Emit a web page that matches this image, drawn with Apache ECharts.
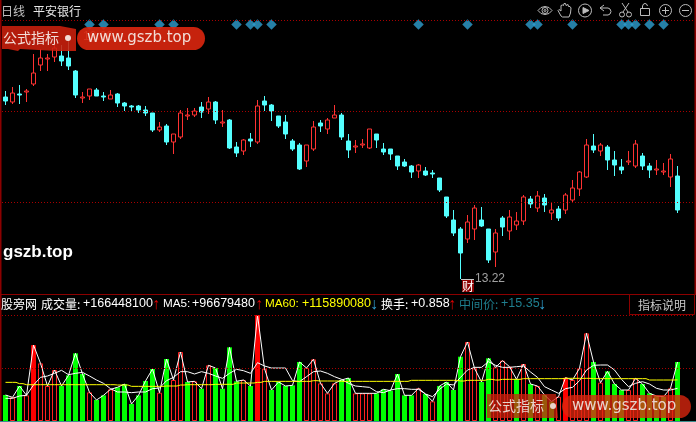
<!DOCTYPE html>
<html><head><meta charset="utf-8">
<style>html,body{margin:0;padding:0;background:#000;overflow:hidden}#c{width:696px;height:422px}</style>
<script src="https://cdn.jsdelivr.net/npm/echarts@6/dist/echarts.min.js"></script>
</head><body><div id="c"></div>
<script>
const opens=[16.86,16.76,16.92,16.96,17.12,17.50,17.62,17.66,17.68,17.64,17.38,16.84,16.88,17.00,16.88,16.82,16.92,16.74,16.68,16.68,16.60,16.54,16.20,16.28,15.96,16.06,16.48,16.50,16.66,16.62,16.76,16.34,16.40,15.86,15.78,16.02,15.96,16.78,16.70,16.48,16.36,15.98,15.90,15.58,15.82,16.34,16.22,16.44,16.50,15.98,15.86,15.90,15.84,16.12,15.82,15.82,15.68,15.56,15.48,15.38,15.38,15.34,15.24,14.86,14.40,14.22,14.02,14.22,14.40,14.22,13.76,14.44,14.18,14.30,14.38,14.82,14.64,14.84,14.54,14.62,14.60,14.80,15.02,15.26,15.88,15.78,15.86,15.60,15.46,15.56,15.48,15.68,15.48,15.40,15.36,15.26,15.28];
const closes=[16.78,16.94,16.90,16.98,17.34,17.64,17.64,17.84,17.58,17.48,16.90,16.86,17.02,16.88,16.86,16.90,16.74,16.68,16.66,16.60,16.54,16.20,16.26,15.96,16.12,16.54,16.50,16.58,16.56,16.76,16.40,16.36,15.84,15.74,16.00,15.98,16.68,16.70,16.58,16.28,16.12,15.82,15.42,15.90,16.26,16.28,16.40,16.50,16.06,15.80,15.88,15.92,16.22,16.00,15.76,15.72,15.48,15.48,15.36,15.50,15.30,15.32,15.00,14.48,14.14,13.74,14.36,14.64,14.28,13.60,14.14,14.26,14.46,14.38,14.86,14.72,14.88,14.70,14.60,14.44,14.90,15.04,15.36,15.90,15.80,15.90,15.60,15.50,15.40,15.58,15.92,15.48,15.40,15.42,15.38,15.62,14.60];
const lows=[16.70,16.72,16.72,16.76,17.08,17.38,17.38,17.56,17.48,17.40,16.84,16.74,16.80,16.88,16.78,16.82,16.66,16.58,16.58,16.54,16.48,16.16,16.16,15.90,15.72,16.02,16.40,16.46,16.44,16.52,16.32,16.26,15.82,15.66,15.70,15.86,15.92,16.58,16.38,16.24,16.02,15.78,15.40,15.46,15.78,16.16,16.12,16.44,16.00,15.64,15.74,15.84,15.82,15.84,15.70,15.60,15.40,15.46,15.24,15.24,15.28,15.24,14.96,14.44,14.08,13.22,13.94,14.00,14.26,13.54,13.46,14.08,14.00,14.20,14.30,14.64,14.56,14.56,14.40,14.38,14.52,14.76,14.88,15.24,15.74,15.68,15.40,15.28,15.32,15.50,15.44,15.40,15.24,15.30,15.30,15.06,14.54];
const highs=[16.98,17.06,17.10,17.02,17.72,17.82,17.72,18.00,17.90,18.06,17.40,16.96,17.02,17.04,16.96,17.00,16.94,16.76,16.70,16.70,16.68,16.54,16.36,16.32,16.12,16.60,16.64,16.64,16.76,16.86,16.78,16.60,16.42,15.96,16.02,16.14,16.80,16.88,16.72,16.48,16.50,16.02,15.94,15.90,16.38,16.40,16.44,16.70,16.54,16.12,16.00,16.02,16.22,16.12,15.94,15.82,15.68,15.62,15.50,15.52,15.46,15.40,15.24,14.86,14.60,14.26,14.50,14.70,14.66,14.22,14.22,14.48,14.60,14.56,14.90,14.88,14.98,14.92,14.76,14.68,14.94,15.20,15.38,16.02,16.12,15.94,15.90,15.78,15.62,15.78,16.00,15.74,15.54,15.60,15.54,15.72,15.48];
const volumes=[73.3,66.7,98.7,72.4,214.3,162.6,98.7,143.8,98.7,128.8,190.8,132.5,80.8,59.2,72.4,89.3,95.0,104.3,47.9,72.4,112.8,146.6,79.9,174.8,115.6,194.6,110.0,111.9,91.2,157.0,149.5,91.2,207.7,111.9,115.6,98.7,298.9,147.6,87.4,110.0,98.7,100.6,166.4,149.5,173.9,106.2,78.0,106.2,115.6,121.3,78.0,78.0,78.0,78.0,89.3,85.6,132.5,72.4,72.4,92.1,76.1,55.4,98.7,110.0,87.4,181.4,222.8,148.5,110.0,176.7,151.3,170.1,153.2,117.5,160.7,104.3,98.7,73.3,54.5,68.6,122.2,115.6,148.5,247.2,166.4,108.1,140.0,104.3,87.4,87.4,120.3,104.3,78.0,70.5,68.6,92.1,166.45];
const volKinds="GRGRFRRRGG"+"GGRGGRGGGG"+"GGRGRRGRGR"+"GGGGRGFRGG"+"GGGRRRRRGG"+"RRRGGGGGGR"+"GRGGGGRRGG"+"RRRGRGRGGR"+"FRRRGRGGGR"+"RGGGGRG";
const ma5=[63.9,63.9,70.5,72.4,101.5,123.1,126.9,134.4,142.9,130.6,134.4,137.2,126.9,115.6,106.2,91.2,81.8,81.8,79.9,81.8,81.8,91.2,93.0,113.7,123.1,139.1,139.1,132.5,139.1,134.4,126.9,120.3,134.4,145.7,141.9,134.4,164.5,155.1,149.4,149.4,149.4,113.7,110.9,125.0,139.1,141.0,134.4,125.0,117.5,106.2,98.7,96.8,94.9,82.7,79.9,87.4,91.2,91.2,89.3,89.3,76.1,68.6,89.3,104.3,101.5,123.1,143.8,151.3,151.3,167.3,157.0,151.3,151.3,153.2,155.1,138.2,123.1,96.8,87.4,78.0,91.2,94.9,113.7,143.8,157.0,157.9,157.9,143.8,117.5,96.8,106.2,110.9,104.3,92.1,87.4,87.4,92.1];
const ma60=[109.0,109.0,105.3,102.4,102.4,102.4,102.4,102.4,102.4,102.4,102.4,102.4,102.4,102.4,102.4,102.4,101.5,101.5,97.7,97.7,97.7,97.7,97.7,98.7,98.7,101.5,102.4,102.4,102.4,102.4,103.4,103.4,103.4,107.1,107.1,107.1,109.0,111.8,111.8,111.8,111.8,111.8,111.8,111.8,113.7,112.8,112.8,112.8,111.8,111.8,111.8,111.8,111.8,111.8,111.8,111.8,111.8,111.8,114.7,114.7,114.7,114.7,114.7,114.7,114.7,112.8,114.7,114.7,114.7,117.5,115.6,117.5,117.5,117.5,119.4,119.4,119.4,119.4,119.4,119.4,120.3,120.3,120.3,120.3,119.4,119.4,119.4,119.4,119.4,119.4,119.4,119.4,115.6,115.6,115.6,115.6,115.89];
const signalDays=[12,14,22,24,33,35,36,38,59,66,75,76,81,88,89,90,92,94];
const signalPrice=18.31;
const guideMain=[18.40,16.58,14.76];
const guideVol=[298,147.5];
const days=Array.from({length:99},(_,i)=>String(i));
const headerName="平安银行";
const periodName="日线";
const siteName="gszb.top";
const RED='#ff3232',CY='#54ffff',GRN='#00ff00',DOT='#a80000',ICON='#bcbcbc';
const CJK='"Noto Sans CJK SC","Liberation Sans",sans-serif';
const LAT='"Liberation Sans",Arial,sans-serif';

const candle=opens.map((o,i)=>[o,closes[i],lows[i],highs[i]]);
const volBars=volumes.map((v,i)=>{const k=volKinds[i];return {value:v,itemStyle:
  k==='G'?{color:GRN,borderColor:GRN,borderWidth:0}:
  k==='F'?{color:'#ff0000',borderColor:'#ff0000',borderWidth:1}:
  {color:'#000',borderColor:'#ff2020',borderWidth:1}}});

function t(x,y,text,fill,size,font,extra){return Object.assign({type:'text',z:100,silent:true,style:{x,y,text,fill,font:(size||12)+'px '+(font||CJK),textVerticalAlign:'middle',textAlign:'left'}},extra||{});}
function arrow(x,y,text,fill){return {type:'text',z:100,silent:true,style:{x,y,text,fill,font:'bold 16px '+LAT,textVerticalAlign:'middle',textAlign:'center'}};}
function pl(points,stroke,fill){return {type:fill?'polygon':'polyline',z:100,silent:true,shape:{points},style:{stroke:stroke||ICON,fill:fill||'none',lineWidth:1}};}
function c(cx,cy,r,stroke,fill){return {type:'circle',z:100,silent:true,shape:{cx,cy,r},style:{stroke:stroke||null,fill:fill||'none',lineWidth:1}};}
function rect(x,y,w,h,fill,r,stroke){return {type:'rect',z:fill&&fill.indexOf('rgba')===0?110:100,silent:true,shape:{x,y,width:w,height:h,r:r||0},style:{fill:fill||'none',stroke:stroke||null,lineWidth:1}};}
function banner(y,pillX,pillW,textX,dotX,urlX,path,a1,a2,txt){
  const o=[];
  o.push({type:'polygon',z:110,silent:true,shape:{points:path},style:{fill:'rgba(205,32,12,'+a1+')'}});
  o.push(rect(pillX,y,pillW,23,'rgba(220,38,14,'+a2+')',11.5));
  o.push(Object.assign(t(textX,y+11,'公式指标',txt,14),{z:120}));
  o.push(Object.assign(c(dotX,y+11,3,null,txt),{z:120}));
  o.push(Object.assign(t(urlX,y+11,'www.gszb.top',txt,15,'"DejaVu Sans",sans-serif'),{z:120}));
  return o;
}
const graphics=[
  rect(0,0,1.5,422,'#8c0000'),
  rect(694.5,0,1.5,294,'#8c0000'),
  rect(0,294,696,1,'#8c0000'),
  rect(0,421,696,1,'#3a8f8f'),
  rect(629.5,294.5,65,20,'#000',0,'#8c0000'),
  t(638,305,'指标说明','#c8c8c8',12),
  t(1,11,periodName,'#c0c0c0',12),
  t(33,11,headerName,'#e8e8e8',12),
  t(3,252,siteName,'#ffffff',17,LAT,{style:{x:3,y:252,text:siteName,fill:'#fff',font:'bold 17px '+LAT,textVerticalAlign:'middle'}}),
  t(1,304,'股旁网','#ffffff',12),
  t(41,304,'成交量:','#ffffff',12),
  t(83,304,'+166448100','#ffffff',12.5,LAT),
  arrow(156,305,'↑','#e00000'),
  t(163,304,'MA5:','#ffffff',11.7,LAT),
  t(192,304,'+96679480','#ffffff',12.5,LAT),
  arrow(259,305,'↑','#e00000'),
  t(265,304,'MA60:','#ffff00',11.7,LAT),
  t(302,304,'+115890080','#ffff00',12.5,LAT),
  arrow(374,305,'↓','#30a0d0'),
  t(381,304,'换手:','#ffffff',12),
  t(411,304,'+0.858','#ffffff',12.5,LAT),
  arrow(452,305,'↑','#e00000'),
  t(459,304,'中间价:','#1f7f8f',12),
  t(501,304,'+15.35','#1f7f8f',12.5,LAT),
  arrow(542,305,'↓','#30a0d0'),
  rect(462,280,12,12,'#8c0000'),
  t(462,286,'财','#ffffff',12),
  pl([[461,279.5],[474,279.5]],'#c8c8c8'),
  // toolbar
  pl([[538,10.5],[541,7.5],[545,6.5],[549,7.5],[552,10.5],[549,13.5],[545,14.5],[541,13.5],[538,10.5]]), c(545,10.5,3,ICON), c(545,10.5,1,ICON),
  pl([[561,16],[558,10.5],[559,9.5],[561,11],[561,5.5],[562.5,5],[563.5,5.5],[564,3.5],[565.5,3.5],[566,5.5],[568,4.5],[568.5,6.5],[570,6.5],[571,8],[570.5,13],[569,17],[562.5,17],[561,16]]),
  c(585,10.5,6.5,ICON), pl([[583,7.5],[589,10.5],[583,13.5]],ICON,ICON),
  pl([[604,5],[600,8],[604,11]]), pl([[600,8],[608,8],[610,9],[611,11.5],[610,14],[608,15],[603,15]]),
  c(622,14.5,2.5,ICON), c(629,14.5,2.5,ICON), pl([[623,12],[629,3]]), pl([[628,12],[622,3]]),
  rect(640.5,8.5,9,7,null,0,ICON), pl([[642.5,8],[642.5,6],[643.5,4],[645,3.5],[646.5,4],[647.5,6]]),
  c(665.5,10.5,6,ICON), pl([[662,10.5],[669,10.5]]), pl([[665.5,7],[665.5,14]]),
  c(685.5,10.5,6,ICON), pl([[682,10.5],[689,10.5]])
].concat(
  banner(27,77,128,3,68,87,[[2,26],[60,26],[76,29],[76,51],[57,51],[20,49],[18,51],[8,49],[2,49]],0.88,0.9,'#f2dcd6'),
  banner(395,562,129,488,553,572,[[487,394],[556,394],[558,418],[487,418]],0.75,0.78,'#e8d4cc')
);

const chart=echarts.init(document.getElementById('c'),null,{renderer:'canvas'});
const gridCommon={left:2,width:693};
const xAxis=i=>({type:'category',gridIndex:i,data:days,show:false,boundaryGap:true});
const mk=(vals)=>({silent:true,symbol:'none',animation:false,label:{show:false},lineStyle:{color:DOT,type:[1,2],width:1},data:vals.map(v=>({yAxis:v}))});
chart.setOption({
  animation:false,backgroundColor:'#000',
  grid:[Object.assign({top:0,height:293},gridCommon),Object.assign({top:295,height:126},gridCommon)],
  xAxis:[xAxis(0),xAxis(1)],
  yAxis:[{type:'value',gridIndex:0,min:12.94,max:18.80,show:false,splitLine:{show:false}},
         {type:'value',gridIndex:1,min:0,max:355.32,show:false,splitLine:{show:false}}],
  graphic:{elements:graphics},
  series:[
    {type:'candlestick',xAxisIndex:0,yAxisIndex:0,barWidth:5,data:candle,z:3,
     itemStyle:{color:'#000',color0:CY,borderColor:RED,borderColor0:CY,borderWidth:1},markLine:mk(guideMain)},
    {type:'scatter',xAxisIndex:0,yAxisIndex:0,symbol:'diamond',symbolSize:10.5,z:4,
     itemStyle:{color:'#2f9fd0'},data:signalDays.map(d=>[d,signalPrice])},
    {type:'scatter',xAxisIndex:0,yAxisIndex:0,symbolSize:1,z:5,itemStyle:{color:'transparent'},
     label:{show:true,position:'right',distance:14,color:'#c8c8c8',fontSize:12,fontFamily:LAT,formatter:p=>p.value[1].toFixed(2)},
     data:[[65,13.22],[9,18.06]]},
    {type:'bar',xAxisIndex:1,yAxisIndex:1,barWidth:5,data:volBars,z:3,markLine:mk(guideVol)},
    {type:'line',xAxisIndex:1,yAxisIndex:1,data:volumes,symbol:'none',z:4,lineStyle:{color:'#fff',width:1}},
    {type:'line',xAxisIndex:1,yAxisIndex:1,data:ma5,symbol:'none',z:4,lineStyle:{color:'#fff',width:1}},
    {type:'line',xAxisIndex:1,yAxisIndex:1,data:ma60,symbol:'none',step:'middle',z:5,lineStyle:{color:'#ffff00',width:1}}
  ]
});
</script></body></html>
